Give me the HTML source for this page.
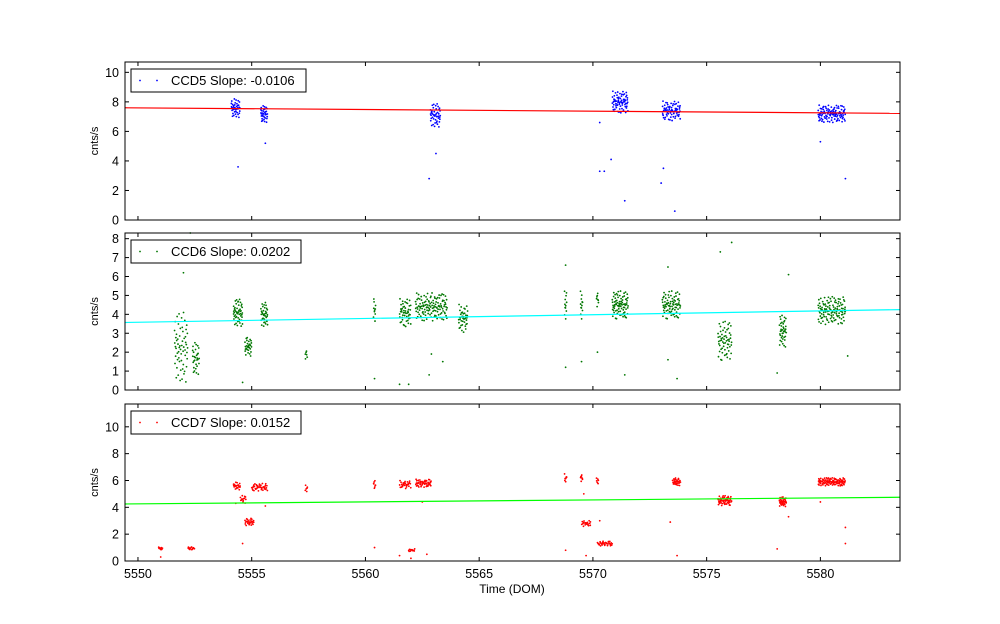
<!DOCTYPE html>
<html><head><meta charset="utf-8"><style>
body{margin:0;background:#fff;}
svg{display:block;font-family:"Liberation Sans","DejaVu Sans",sans-serif;}
</style></head><body>
<svg id="chart" width="1000" height="624"></svg>
<script>
// ---- data ----
const xTicks=[5550,5555,5560,5565,5570,5575,5580];
const lineX=[5549.43,5583.5];
const ccd5Line=[7.6,7.22];
const ccd6Line=[3.57,4.25];
const ccd7Line=[4.25,4.75];
const ccd5Ticks=[0,2,4,6,8,10];
const ccd6Ticks=[0,1,2,3,4,5,6,7,8];
const ccd7Ticks=[0,2,4,6,8,10];
// clusters: [xStart, xEnd, yMean, ySpread, count]
const ccd5Clusters=[[5554.1,5554.5,7.6,0.45,40],[5555.4,5555.7,7.2,0.4,35],[5562.85,5563.3,7.1,0.55,45],[5570.85,5571.55,8.0,0.5,70],[5573.05,5573.85,7.4,0.45,70],[5579.9,5581.1,7.2,0.4,110]];
const ccd5Outliers=[[5554.4,3.6],[5555.6,5.2],[5562.8,2.8],[5563.1,4.5],[5570.3,3.3],[5570.5,3.3],[5570.8,4.1],[5571.4,1.3],[5573.0,2.5],[5573.1,3.5],[5573.6,0.6],[5581.1,2.8],[5580.0,5.3],[5570.3,6.6]];
const ccd6Clusters=[[5551.6,5552.2,2.3,1.3,60],[5552.4,5552.7,1.7,0.6,30],[5554.2,5554.6,4.1,0.5,50],[5554.7,5555.0,2.3,0.35,30],[5555.4,5555.7,4.0,0.45,35],[5557.35,5557.45,1.9,0.2,6],[5560.35,5560.45,4.2,0.5,10],[5561.5,5562.0,4.1,0.5,50],[5562.2,5563.6,4.4,0.5,130],[5564.1,5564.5,3.8,0.5,40],[5568.75,5568.85,4.5,0.5,12],[5569.45,5569.55,4.5,0.5,12],[5570.15,5570.25,4.8,0.3,8],[5570.85,5571.55,4.5,0.5,80],[5573.05,5573.85,4.5,0.5,80],[5575.5,5576.1,2.6,0.7,60],[5578.2,5578.5,3.1,0.6,40],[5579.9,5581.1,4.2,0.5,120]];
const ccd6Outliers=[[5552.0,6.2],[5552.3,8.3],[5554.6,0.4],[5560.4,0.6],[5561.5,0.3],[5561.9,0.3],[5562.8,0.8],[5562.9,1.9],[5563.4,1.5],[5568.8,1.2],[5569.5,1.5],[5570.2,2.0],[5571.4,0.8],[5573.3,1.6],[5573.7,0.6],[5575.6,7.3],[5576.1,7.8],[5578.1,0.9],[5578.6,6.1],[5581.2,1.8],[5568.8,6.6],[5573.3,6.5]];
const ccd7Clusters=[[5550.9,5551.1,0.95,0.08,10],[5552.2,5552.5,0.95,0.08,14],[5554.2,5554.5,5.6,0.2,20],[5554.5,5554.75,4.6,0.2,14],[5554.7,5555.1,2.9,0.2,25],[5555.0,5555.7,5.5,0.2,40],[5557.35,5557.45,5.4,0.2,6],[5560.35,5560.45,5.7,0.2,8],[5561.5,5562.0,5.7,0.2,30],[5561.9,5562.2,0.8,0.08,12],[5562.2,5562.9,5.8,0.2,50],[5568.75,5568.85,6.2,0.2,8],[5569.45,5569.55,6.2,0.2,8],[5569.5,5569.9,2.8,0.15,20],[5570.15,5570.25,6.0,0.2,6],[5570.2,5570.85,1.3,0.12,35],[5573.5,5573.85,5.9,0.2,30],[5575.5,5576.1,4.5,0.25,55],[5578.2,5578.5,4.4,0.25,35],[5579.9,5581.1,5.9,0.2,110]];
const ccd7Outliers=[[5551.0,0.3],[5554.3,4.3],[5554.6,1.3],[5555.6,4.1],[5560.4,1.0],[5561.5,0.4],[5562.0,0.2],[5562.7,0.5],[5562.5,4.4],[5568.8,0.8],[5569.6,5.0],[5569.7,0.4],[5570.3,3.0],[5573.4,2.9],[5573.7,0.4],[5578.6,3.3],[5578.1,0.9],[5580.0,4.4],[5581.1,1.3],[5581.1,2.5]];

// ---- layout ----
const NS='http://www.w3.org/2000/svg';
const svg=document.getElementById('chart');
const X0=125,X1=900,XMIN=5549.43,XMAX=5583.5;
function xs(v){return X0+(v-XMIN)/(XMAX-XMIN)*(X1-X0);}
function mk(tag,attrs,parent){const e=document.createElementNS(NS,tag);for(const k in attrs)e.setAttribute(k,attrs[k]);(parent||svg).appendChild(e);return e;}
function halton(i,b){let f=1,r=0;while(i>0){f/=b;r+=f*(i%b);i=Math.floor(i/b);}return r;}
const panels=[
 {name:'ccd5',top:62,bot:220,ymax:10.7,ticks:ccd5Ticks,cl:ccd5Clusters,out:ccd5Outliers,line:ccd5Line,pc:'#0000ff',lc:'#ff0000',label:'CCD5 Slope: -0.0106',lw:175},
 {name:'ccd6',top:233,bot:390,ymax:8.3,ticks:ccd6Ticks,cl:ccd6Clusters,out:ccd6Outliers,line:ccd6Line,pc:'#007700',lc:'#00ffff',label:'CCD6 Slope: 0.0202',lw:170},
 {name:'ccd7',top:404,bot:561,ymax:11.7,ticks:ccd7Ticks,cl:ccd7Clusters,out:ccd7Outliers,line:ccd7Line,pc:'#ff0000',lc:'#00ff00',label:'CCD7 Slope: 0.0152',lw:170}
];
panels.forEach((p,pi)=>{
 const ys=v=>p.bot-v/p.ymax*(p.bot-p.top);
 const g=mk('g',{});
 
 
 const pts=mk('g',{fill:p.pc},g);
 
 
 p.cl.forEach((c,ci)=>{
  for(let i=0;i<c[4];i++){
   const u=halton(i+1+ci*7,2), w=halton(i+1+ci*7,3);
   const t=(w-0.5)*2; const yv=c[2]+c[3]*t*(0.4+0.6*Math.abs(t))*1.5;
   const cx=xs(c[0]+(c[1]-c[0])*u), cy=ys(yv);
   const d=mk('circle',{cx:cx,cy:cy,r:0.9},pts);
   
   
  }
 });
 p.out.forEach(o=>{
  const d=mk('circle',{cx:xs(o[0]),cy:ys(o[1]),r:0.9},pts);
  
  
 });
 const ln=mk('line',{x1:xs(lineX[0]),y1:ys(p.line[0]),x2:xs(lineX[1]),y2:ys(p.line[1]),stroke:p.lc,'stroke-width':1.2},g);
 
 
 const fr=mk('rect',{x:X0,y:p.top,width:X1-X0,height:p.bot-p.top,fill:'none',stroke:'#000','stroke-width':1},g);
 
 
 p.ticks.forEach(t=>{
  const y=ys(t);
  mk('line',{x1:X0,y1:y,x2:X0+4,y2:y,stroke:'#000'},g);
  mk('line',{x1:X1,y1:y,x2:X1-4,y2:y,stroke:'#000'},g);
  const tx=mk('text',{x:X0-6,y:y+4.5,'text-anchor':'end','font-size':12.5},g);
  tx.textContent=t;
  
  
 });
 xTicks.forEach(t=>{
  const x=xs(t);
  mk('line',{x1:x,y1:p.bot,x2:x,y2:p.bot-4,stroke:'#000'},g);
  mk('line',{x1:x,y1:p.top,x2:x,y2:p.top+4,stroke:'#000'},g);
  if(pi===2){
   const tx=mk('text',{x:x,y:p.bot+17,'text-anchor':'middle','font-size':12.5},g);
   tx.textContent=t;
   
   
  }
 });
 const yl=mk('text',{x:0,y:0,transform:'translate(98,'+((p.top+p.bot)/2)+') rotate(-90)','text-anchor':'middle','font-size':11},g);
 yl.textContent='cnts/s';
 
 
 const lg=mk('g',{},g);
 
 
 mk('rect',{x:131,y:p.top+7,width:p.lw,height:23,fill:'#fff',stroke:'#000','stroke-width':1},lg);
 mk('circle',{cx:140,cy:p.top+18.5,r:0.9,fill:p.pc},lg);
 mk('circle',{cx:157,cy:p.top+18.5,r:0.9,fill:p.pc},lg);
 const lt=mk('text',{x:171,y:p.top+23,'font-size':13},lg);
 lt.textContent=p.label;
 
 
});
const xl=mk('text',{x:512,y:593,'text-anchor':'middle','font-size':12});
xl.textContent='Time (DOM)';


</script>
</body></html>
